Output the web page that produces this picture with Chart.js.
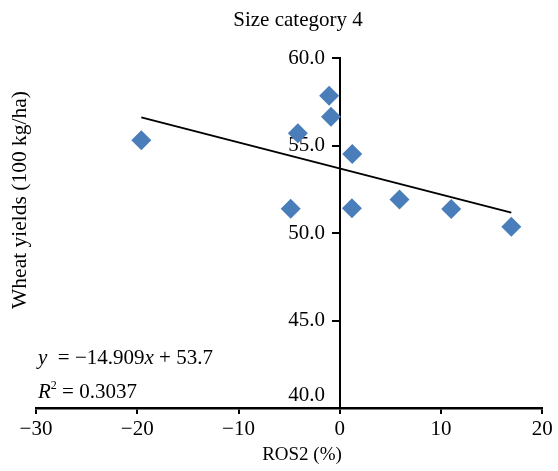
<!DOCTYPE html>
<html>
<head>
<meta charset="utf-8">
<script src="https://cdn.jsdelivr.net/npm/chart.js@4"></script>
<style>
  body { margin: 0; background: #fff; }
</style>
</head>
<body>
<canvas id="ros2Chart" width="558" height="471"></canvas>
<script>
// values
const ros2Values = [-19.6, -1.05, -0.87, -4.14, 1.23, -4.85, 1.2, 5.9, 11.0, 16.94];
const wheatYields = [55.32, 57.86, 56.66, 55.71, 54.52, 51.40, 51.42, 51.93, 51.38, 50.37];
const xTicks = [-30, -20, -10, 0, 10, 20];
const yTicks = [40, 45, 50, 55, 60];
const trendSlope = -14.909;   // per unit fraction, as printed on the chart
const trendIntercept = 53.7;
const rSquared = '0.3037';

const serif = "'Liberation Serif', 'DejaVu Serif', serif";
Chart.defaults.font.family = serif;
Chart.defaults.color = '#000';

const minus = s => String(s).replace('-', '\u2212');

const points = ros2Values.map((x, i) => ({ x: x, y: wheatYields[i] }));
const xLo = Math.min(...ros2Values);
const xHi = Math.max(...ros2Values);
const trend = [xLo, xHi].map(x => ({ x: x, y: trendSlope * x / 100 + trendIntercept }));

// titles and the equation box are drawn as text on top of the chart
const textPlugin = {
    id: 'extraText',
    afterDraw(chart) {
        const ctx = chart.ctx;
        ctx.save();
        ctx.fillStyle = '#000';
        ctx.textBaseline = 'middle';
        ctx.textAlign = 'center';

        ctx.font = '21px ' + serif;
        ctx.fillText('Size category 4', 298, 20);

        ctx.font = '19px ' + serif;
        ctx.fillText('ROS2 (%)', 302, 455);

        ctx.save();
        ctx.translate(20, 200);
        ctx.rotate(-Math.PI / 2);
        ctx.font = '21.5px ' + serif;
        ctx.fillText('Wheat yields (100 kg/ha)', 0, 0);
        ctx.restore();

        // regression equation
        ctx.textAlign = 'left';
        let x = 38;
        const parts = [
            ['italic ', 'y'],
            ['', '  = \u221214.909'],
            ['italic ', 'x'],
            ['', ' + 53.7']
        ];
        parts.forEach(p => {
            ctx.font = p[0] + '21px ' + serif;
            ctx.fillText(p[1], x, 358);
            x += ctx.measureText(p[1]).width;
        });

        x = 38;
        ctx.font = 'italic 21px ' + serif;
        ctx.fillText('R', x, 392);
        x += ctx.measureText('R').width;
        ctx.font = '12px ' + serif;
        ctx.fillText('2', x, 386);
        x += ctx.measureText('2').width;
        ctx.font = '21px ' + serif;
        ctx.fillText(' = ' + rSquared, x, 392);
        ctx.restore();
    }
};

new Chart(document.getElementById('ros2Chart').getContext('2d'), {
    type: 'scatter',
    data: {
        datasets: [{
            label: 'Size category 4',
            data: points,
            pointStyle: 'rectRot',
            pointRadius: 10,
            pointHoverRadius: 10,
            backgroundColor: '#4a7ebb',
            borderWidth: 0,
            order: 2
        }, {
            type: 'line',
            label: 'Trend',
            data: trend,
            borderColor: '#000',
            borderWidth: 2,
            pointRadius: 0,
            fill: false,
            order: 1
        }]
    },
    options: {
        responsive: false,
        animation: false,
        events: [],
        layout: {
            padding: { left: 36, right: 15.7, top: 58.3, bottom: 25.8 }
        },
        plugins: {
            legend: { display: false },
            tooltip: { enabled: false },
            title: { display: false }
        },
        scales: {
            x: {
                type: 'linear',
                min: -30,
                max: 20,
                afterBuildTicks: axis => { axis.ticks = xTicks.map(v => ({ value: v })); },
                ticks: {
                    font: { size: 21 },
                    padding: 3,
                    maxRotation: 0,
                    callback: v => minus(v)
                },
                grid: {
                    drawOnChartArea: false,
                    drawTicks: true,
                    tickLength: 6,
                    color: '#000',
                    lineWidth: 2
                },
                border: { color: '#000', width: 2.5 }
            },
            y: {
                type: 'linear',
                position: { x: 0 },
                min: 40,
                max: 60,
                z: 1,
                afterBuildTicks: axis => { axis.ticks = yTicks.map(v => ({ value: v })); },
                ticks: {
                    font: { size: 21 },
                    // labels sit left of the tick marks; the bottom one is lifted off the x axis
                    callback: v => {
                        const label = Number(v).toFixed(1) + '\u2002\u2009';
                        return v === 40 ? [label, ''] : label;
                    }
                },
                grid: {
                    drawOnChartArea: false,
                    drawTicks: true,
                    tickLength: 7,
                    color: '#000',
                    lineWidth: 2
                },
                border: { color: '#000', width: 2 }
            }
        }
    },
    plugins: [textPlugin]
});
</script>
</body>
</html>
